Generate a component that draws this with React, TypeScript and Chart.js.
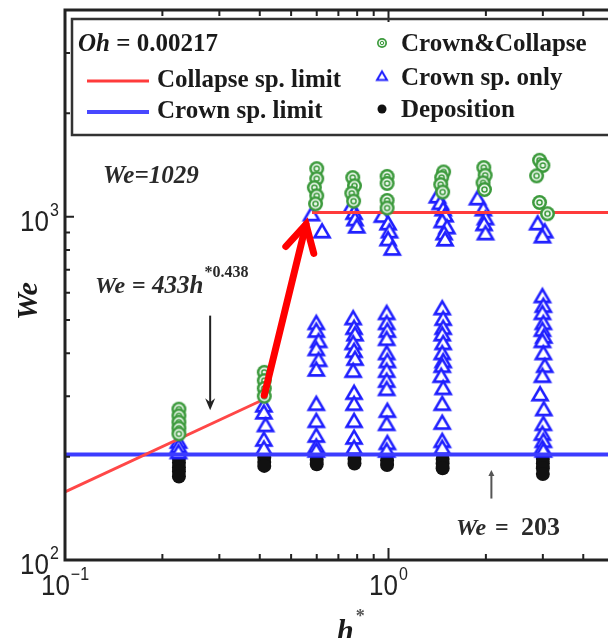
import React, { useEffect, useRef } from "react";
import { Chart, registerables } from "chart.js";

Chart.register(...registerables);

// ---- axis ticks ----
const xMajorTicks = [0.1, 1, 10];
const xMinorTicks = [0.2, 0.3, 0.4, 0.5, 0.6, 0.7, 0.8, 0.9, 2, 3, 4, 5, 6, 7, 8, 9];
const xTickExp = ["\u22121", "0", "1"];
const yMajorTicks = [100, 1000];
const yMinorTicks = [200, 300, 400, 500, 600, 700, 800, 900, 2000, 3000];
const yTickExp = ["2", "3"];

// ---- Crown&Collapse (green) ----
const ccH = [
  0.225, 0.225, 0.225, 0.225, 0.225,
  0.413, 0.413, 0.413, 0.413,
  0.6, 0.6, 0.59, 0.6, 0.595,
  0.775, 0.785, 0.77, 0.78,
  0.99, 0.99, 0.99, 0.99,
  1.48, 1.46, 1.45, 1.47,
  1.97, 1.99, 1.96, 1.98,
  2.93, 3.0, 2.87, 2.93, 3.1,
];
const ccWe = [
  275, 263, 252, 242, 233,
  352, 333, 316, 300,
  1380, 1290, 1215, 1150, 1090,
  1300, 1230, 1170, 1110,
  1310, 1250, 1115, 1060,
  1350, 1300, 1240, 1180,
  1390, 1320, 1255, 1200,
  1460, 1410, 1315, 1100, 1020,
];

// ---- Crown sp. only (blue triangles) ----
const coH = [
  0.225, 0.225, 0.225,
  0.413, 0.413, 0.418, 0.413, 0.413,
  0.58, 0.625,
  0.6, 0.6, 0.61, 0.6, 0.61, 0.6, 0.6, 0.6, 0.6, 0.6, 0.6,
  0.77, 0.785, 0.79, 0.8,
  0.78, 0.785, 0.79, 0.78, 0.785, 0.79, 0.78, 0.785, 0.785, 0.785, 0.785, 0.785,
  0.96, 1.0, 1.01, 1.0, 1.03,
  0.99, 0.99, 0.995, 0.99, 0.99, 0.995, 0.99, 0.99, 0.99, 0.995, 0.99, 0.995, 0.99,
  1.42, 1.45, 1.48, 1.5, 1.47, 1.52, 1.49, 1.5,
  1.47, 1.48, 1.48, 1.47, 1.48, 1.47, 1.48, 1.47, 1.46, 1.48, 1.47, 1.47, 1.47, 1.47,
  1.89, 1.97, 2.0, 1.98, 2.0,
  2.9, 3.05, 3.0,
  3.0, 3.02, 3.0, 3.02, 3.0, 3.03, 3.0, 3.02, 3.05, 3.0, 2.95, 3.03, 3.02, 3.0, 3.02, 3.0, 3.02,
];
const coWe = [
  222, 215, 207,
  283, 270, 248, 225, 212,
  1020, 910,
  492, 467, 436, 413, 384, 360, 286, 255, 231, 215, 209,
  1075, 1030, 987, 940,
  508, 476, 456, 430, 408, 387, 357, 308, 286, 255, 228, 213,
  1010, 960, 910, 863, 810,
  526, 492, 467, 442, 402, 381, 357, 334, 316, 273, 250, 220, 209,
  1150, 1100, 1055, 1013, 974, 935, 898, 862,
  543, 506, 476, 456, 430, 402, 381, 369, 345, 318, 286, 252, 223, 213,
  1135, 1055, 993, 955, 898,
  960, 910, 880,
  589, 552, 526, 492, 470, 449, 436, 402, 369, 345, 305, 276, 250, 234, 223, 213, 209,
];

// ---- Deposition (black) ----
const depH = [
  0.225, 0.225, 0.225, 0.225, 0.225,
  0.413, 0.413, 0.413,
  0.6, 0.6,
  0.785, 0.785,
  0.99, 0.99,
  1.47, 1.47, 1.47,
  3.0, 3.0, 3.0, 3.0,
];
const depWe = [
  198, 192, 186, 181, 175,
  199, 193, 188,
  196, 190,
  197, 191,
  195, 189,
  197, 191, 185,
  197, 191, 185, 178,
];

// ---- limit lines ----
const collapseSlopeH = [0.1, 0.4];
const collapseSlopeWe = [158, 290];
const collapseFlatH = [0.58, 10];
const collapseFlatWe = [1029, 1029];
const crownLimitH = [0.1, 10];
const crownLimitWe = [203, 203];

// ---- annotation anchors (data space) ----
const bigArrowH = [0.413, 0.556];
const bigArrowWe = [302, 950];
const downArrowH = 0.281;
const downArrowWe = [515, 273];
const upArrowH = 2.08;
const upArrowWe = [151, 183];

const zip = (xs: number[], ys: number[]) => xs.map((x, i) => ({ x, y: ys[i] }));

const SERIF = "'Liberation Serif', 'Times New Roman', serif";
const SANS = "'Liberation Sans', Arial, sans-serif";

function makeGreen(r: number) {
  const s = Math.ceil(r * 2 + 4);
  const c = document.createElement("canvas");
  c.width = s;
  c.height = s;
  const g = c.getContext("2d")!;
  const m = s / 2;
  g.fillStyle = "#3c9a3c";
  g.beginPath();
  g.arc(m, m, r, 0, Math.PI * 2);
  g.fill();
  g.fillStyle = "#eef8ee";
  g.beginPath();
  g.arc(m, m, r * 0.66, 0, Math.PI * 2);
  g.fill();
  g.strokeStyle = "#3c9a3c";
  g.lineWidth = Math.max(1, r * 0.2);
  g.beginPath();
  g.arc(m, m, r * 0.34, 0, Math.PI * 2);
  g.stroke();
  return c;
}

function makeTri(w: number, lw: number) {
  const h = w * 0.85;
  const c = document.createElement("canvas");
  c.width = Math.ceil(w + lw * 2 + 2);
  c.height = Math.ceil(h + lw * 2 + 2);
  const g = c.getContext("2d")!;
  const ox = lw + 1;
  const oy = lw + 1;
  g.beginPath();
  g.moveTo(ox + w / 2, oy);
  g.lineTo(ox + w, oy + h);
  g.lineTo(ox, oy + h);
  g.closePath();
  g.fillStyle = "#ffffff";
  g.fill();
  g.strokeStyle = "#1f1fff";
  g.lineWidth = lw;
  g.lineJoin = "miter";
  g.stroke();
  return c;
}

function text(
  ctx: CanvasRenderingContext2D,
  s: string,
  x: number,
  y: number,
  font: string,
  align: CanvasTextAlign = "left",
  color = "#1a1a1a",
  sy = 1
) {
  ctx.save();
  ctx.font = font;
  ctx.fillStyle = color;
  ctx.textAlign = align;
  ctx.textBaseline = "alphabetic";
  ctx.translate(x, y);
  ctx.scale(1, sy);
  ctx.fillText(s, 0, 0);
  const w = ctx.measureText(s).width;
  ctx.restore();
  return w;
}

export default function App() {
  const ref = useRef<HTMLCanvasElement | null>(null);

  useEffect(() => {
    if (!ref.current) return;
    const greenImg = makeGreen(7.5);
    const triImg = makeTri(15, 2.6);
    const greenLeg = makeGreen(5);
    const triLeg = makeTri(10, 2);

    const decor = {
      id: "decor",
      afterDatasetsDraw(chart: any) {
        const ctx: CanvasRenderingContext2D = chart.ctx;
        const a = chart.chartArea;
        const sx = chart.scales.x;
        const sy = chart.scales.y;
        const px = (v: number) => sx.getPixelForValue(v);
        const py = (v: number) => sy.getPixelForValue(v);
        ctx.save();

        // big red arrow
        {
          const x0 = px(bigArrowH[0]);
          const y0 = py(bigArrowWe[0]);
          const x1 = px(bigArrowH[1]);
          const y1 = py(bigArrowWe[1]);
          const ang = Math.atan2(y0 - y1, x0 - x1);
          ctx.strokeStyle = "#ff0000";
          ctx.lineWidth = 7;
          ctx.lineCap = "round";
          ctx.lineJoin = "miter";
          ctx.beginPath();
          ctx.moveTo(x0, y0);
          ctx.lineTo(x1, y1);
          ctx.stroke();
          const L = 30;
          const sp = 0.5;
          ctx.beginPath();
          ctx.moveTo(x1 + L * Math.cos(ang + sp), y1 + L * Math.sin(ang + sp));
          ctx.lineTo(x1, y1);
          ctx.lineTo(x1 + L * Math.cos(ang - sp), y1 + L * Math.sin(ang - sp));
          ctx.stroke();
        }

        // thin down arrow
        {
          const x = px(downArrowH);
          const yA = py(downArrowWe[0]);
          const yB = py(downArrowWe[1]);
          ctx.strokeStyle = "#222";
          ctx.fillStyle = "#222";
          ctx.lineWidth = 2;
          ctx.lineCap = "butt";
          ctx.beginPath();
          ctx.moveTo(x, yA);
          ctx.lineTo(x, yB - 6);
          ctx.stroke();
          ctx.beginPath();
          ctx.moveTo(x, yB);
          ctx.lineTo(x - 5, yB - 12);
          ctx.lineTo(x, yB - 8);
          ctx.lineTo(x + 5, yB - 12);
          ctx.closePath();
          ctx.fill();
        }
        // thin up arrow
        {
          const x = px(upArrowH);
          const yA = py(upArrowWe[0]);
          const yB = py(upArrowWe[1]);
          ctx.strokeStyle = "#555";
          ctx.fillStyle = "#555";
          ctx.lineWidth = 2;
          ctx.beginPath();
          ctx.moveTo(x, yA);
          ctx.lineTo(x, yB + 3);
          ctx.stroke();
          ctx.beginPath();
          ctx.moveTo(x, yB);
          ctx.lineTo(x - 3, yB + 6);
          ctx.lineTo(x + 3, yB + 6);
          ctx.closePath();
          ctx.fill();
        }

        // frame
        ctx.strokeStyle = "#222";
        ctx.lineWidth = 3;
        ctx.lineCap = "square";
        ctx.beginPath();
        ctx.moveTo(a.left, a.top);
        ctx.lineTo(a.left, a.bottom);
        ctx.lineTo(a.right, a.bottom);
        ctx.lineTo(a.right, a.top);
        ctx.closePath();
        ctx.stroke();

        // ticks
        ctx.lineWidth = 2;
        ctx.lineCap = "butt";
        const xt = (v: number, len: number) => {
          const x = px(v);
          ctx.beginPath();
          ctx.moveTo(x, a.bottom);
          ctx.lineTo(x, a.bottom - len);
          ctx.moveTo(x, a.top);
          ctx.lineTo(x, a.top + len);
          ctx.stroke();
        };
        const yt = (v: number, len: number) => {
          const y = py(v);
          ctx.beginPath();
          ctx.moveTo(a.left, y);
          ctx.lineTo(a.left + len, y);
          ctx.moveTo(a.right, y);
          ctx.lineTo(a.right - len, y);
          ctx.stroke();
        };
        xMinorTicks.forEach((v) => xt(v, 6));
        xMajorTicks.forEach((v) => xt(v, 12));
        yMinorTicks.forEach((v) => yt(v, 5));
        yMajorTicks.forEach((v) => yt(v, 9));

        // tick labels
        const bigF = `26px ${SANS}`;
        const expF = `16px ${SANS}`;
        const tickCol = "#222";
        xMajorTicks.forEach((v, i) => {
          const x = px(v);
          ctx.font = bigF;
          const w1 = ctx.measureText("10").width;
          ctx.font = expF;
          const w2 = ctx.measureText(xTickExp[i]).width;
          const start = x - (w1 + 1 + w2) / 2;
          text(ctx, "10", start, 595, bigF, "left", tickCol, 1.12);
          text(ctx, xTickExp[i], start + w1 + 1, 580, expF, "left", tickCol, 1.12);
        });
        yMajorTicks.forEach((v, i) => {
          const y = py(v);
          text(ctx, "10", 49, y + 14, bigF, "right", tickCol, 1.12);
          text(ctx, yTickExp[i], 50, y - 1, expF, "left", tickCol, 1.12);
        });

        // axis titles
        ctx.save();
        ctx.translate(37, 301);
        ctx.rotate(-Math.PI / 2);
        text(ctx, "We", 0, 0, `bold italic 30px ${SERIF}`, "center", "#1a1a1a");
        ctx.restore();
        const hw = text(ctx, "h", 337, 640, `bold italic 30px ${SERIF}`, "left", "#1a1a1a");
        text(ctx, "*", 337 + hw + 2, 622, `bold 18px ${SERIF}`, "left", "#555");

        // in-plot annotations
        const annF = `bold italic 25px ${SERIF}`;
        const annC = "#2a2a2a";
        text(ctx, "We=1029", 103, 183, annF, "left", annC);
        text(ctx, "We", 95, 293, `bold italic 24px ${SERIF}`, "left", annC);
        text(ctx, "=", 132, 293, `bold 24px ${SERIF}`, "left", annC);
        const w433 = text(ctx, "433h", 152, 293, annF, "left", annC);
        text(ctx, "*0.438", 152 + w433 + 1, 277, `bold 16px ${SERIF}`, "left", annC);
        text(ctx, "We", 456, 535, `bold italic 24px ${SERIF}`, "left", annC);
        text(ctx, "=", 495, 535, `bold 24px ${SERIF}`, "left", annC);
        text(ctx, "203", 521, 535, `bold 26px ${SERIF}`, "left", annC);

        // legend box
        ctx.strokeStyle = "#333";
        ctx.lineWidth = 2.5;
        ctx.strokeRect(72, 19, a.right - 80, 116);
        const legF = `bold 25px ${SERIF}`;
        const ow = text(ctx, "Oh", 78, 51, `bold italic 25px ${SERIF}`);
        text(ctx, " = 0.00217", 78 + ow, 51, legF);
        ctx.lineCap = "butt";
        ctx.strokeStyle = "#ff3b3b";
        ctx.lineWidth = 3;
        ctx.beginPath();
        ctx.moveTo(87, 81);
        ctx.lineTo(149, 81);
        ctx.stroke();
        text(ctx, "Collapse sp. limit", 157, 87, legF);
        ctx.strokeStyle = "#4848ff";
        ctx.lineWidth = 4;
        ctx.beginPath();
        ctx.moveTo(87, 112);
        ctx.lineTo(149, 112);
        ctx.stroke();
        text(ctx, "Crown sp. limit", 157, 118, legF);

        ctx.drawImage(greenLeg, 382 - greenLeg.width / 2, 43 - greenLeg.height / 2);
        text(ctx, "Crown&Collapse", 401, 51, legF);
        ctx.drawImage(triLeg, 382 - triLeg.width / 2, 76 - triLeg.height / 2);
        text(ctx, "Crown sp. only", 401, 85, legF);
        ctx.fillStyle = "#111";
        ctx.beginPath();
        ctx.arc(382, 109, 4.5, 0, Math.PI * 2);
        ctx.fill();
        text(ctx, "Deposition", 401, 117, legF);

        ctx.restore();
      },
    };

    const chart = new Chart(ref.current, {
      type: "scatter",
      data: {
        datasets: [
          {
            label: "Deposition",
            data: zip(depH, depWe),
            pointStyle: "circle",
            pointRadius: 7,
            backgroundColor: "#111",
            borderColor: "#111",
            borderWidth: 0,
            order: 8,
          },
          {
            label: "Crown sp. only",
            data: zip(coH, coWe),
            pointStyle: triImg as any,
            order: 7,
          },
          {
            label: "Crown sp. limit",
            data: zip(crownLimitH, crownLimitWe),
            showLine: true,
            pointRadius: 0,
            borderColor: "#3c3cff",
            borderWidth: 4,
            order: 6,
          },
          {
            label: "Collapse slope",
            data: zip(collapseSlopeH, collapseSlopeWe),
            showLine: true,
            pointRadius: 0,
            borderColor: "#ff4747",
            borderWidth: 3,
            order: 5,
          },
          {
            label: "Collapse flat",
            data: zip(collapseFlatH, collapseFlatWe),
            showLine: true,
            pointRadius: 0,
            borderColor: "#ff3b3b",
            borderWidth: 3,
            order: 5,
          },
          {
            label: "Crown&Collapse",
            data: zip(ccH, ccWe),
            pointStyle: greenImg as any,
            order: 4,
          },
        ],
      },
      options: {
        animation: false,
        responsive: false,
        events: [],
        layout: { padding: { left: 65, top: 10, right: 18, bottom: 78 } },
        plugins: { legend: { display: false }, tooltip: { enabled: false } },
        scales: {
          x: { type: "logarithmic", min: 0.1, max: 10, display: false },
          y: { type: "logarithmic", min: 100, max: 4000, display: false },
        },
      },
      plugins: [decor],
    });
    return () => chart.destroy();
  }, []);

  return (
    <div
      style={{
        position: "absolute",
        left: 0,
        top: 0,
        width: 608,
        height: 638,
        overflow: "hidden",
        background: "#fff",
      }}
    >
      <canvas ref={ref} width={730} height={638} style={{ display: "block" }} />
    </div>
  );
}
